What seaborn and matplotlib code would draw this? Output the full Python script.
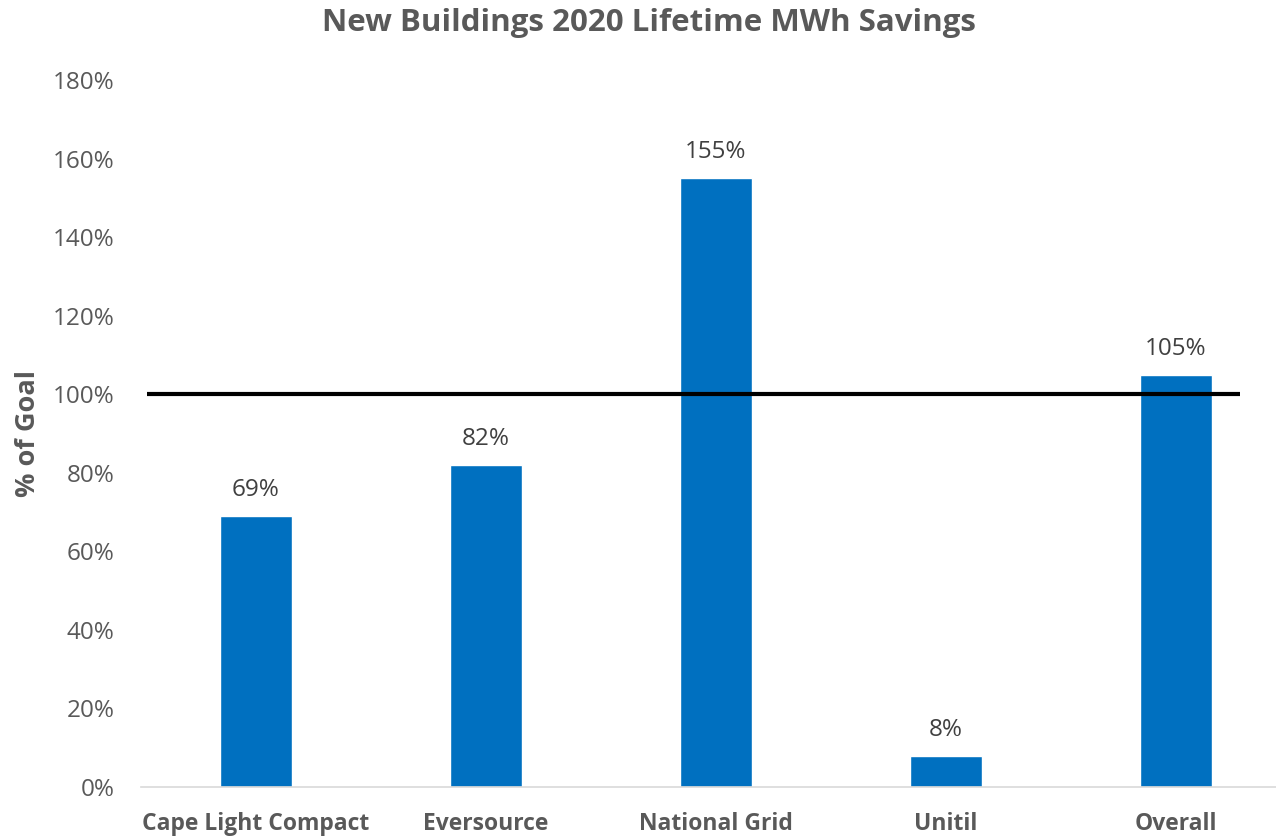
import matplotlib
matplotlib.use('Agg')

import matplotlib.pyplot as plt
import seaborn as sns
import pandas as pd
from matplotlib.ticker import PercentFormatter

# data
companies = ['Cape Light Compact', 'Eversource', 'National Grid', 'Unitil', 'Overall']
pct_of_goal = [0.69, 0.82, 1.55, 0.08, 1.05]
goal = 1.0

df = pd.DataFrame({'company': companies, 'pct': pct_of_goal})

sns.set_theme(style='white')
plt.rcParams['font.family'] = ['Open Sans', 'DejaVu Sans']
grey = '#595959'

fig = plt.figure(figsize=(12.76, 8.38), dpi=100)
ax = fig.add_axes([0.1105, 0.0609, 0.8895, 0.8436])

sns.barplot(data=df, x='company', y='pct', color='#0070C0', width=0.31,
            saturation=1, ax=ax)

for i, v in enumerate(pct_of_goal):
    ax.text(i, v + 0.035, '{:.0f}%'.format(v * 100), ha='center', va='bottom',
            fontsize=17.5, color='#404040')

ax.hlines(goal, -0.474, 4.28, color='black', linewidth=3, zorder=5)

ax.set_ylim(0, 1.8)
ax.set_xlim(-0.5, 4.435)
ax.set_yticks([i * 0.2 for i in range(10)])
ax.yaxis.set_major_formatter(PercentFormatter(1.0, decimals=0))
ax.tick_params(axis='y', labelsize=17.5, labelcolor=grey, length=0, pad=19)
ax.tick_params(axis='x', labelsize=16.5, labelcolor=grey, length=0, pad=18)
for lbl in ax.get_xticklabels():
    lbl.set_fontweight('bold')

for s in ['top', 'right', 'left']:
    ax.spines[s].set_visible(False)
ax.spines['bottom'].set_color('#D9D9D9')
ax.spines['bottom'].set_linewidth(1.2)

ax.set_xlabel('')
ax.set_ylabel('% of Goal', fontsize=19.5, fontweight='bold', color=grey)
ax.yaxis.set_label_coords(-0.088, 0.5)
fig.suptitle('New Buildings 2020 Lifetime MWh Savings', fontsize=22.5,
             fontweight='bold', color=grey, x=0.509, y=0.99)

fig.savefig('out.png', dpi=100)
